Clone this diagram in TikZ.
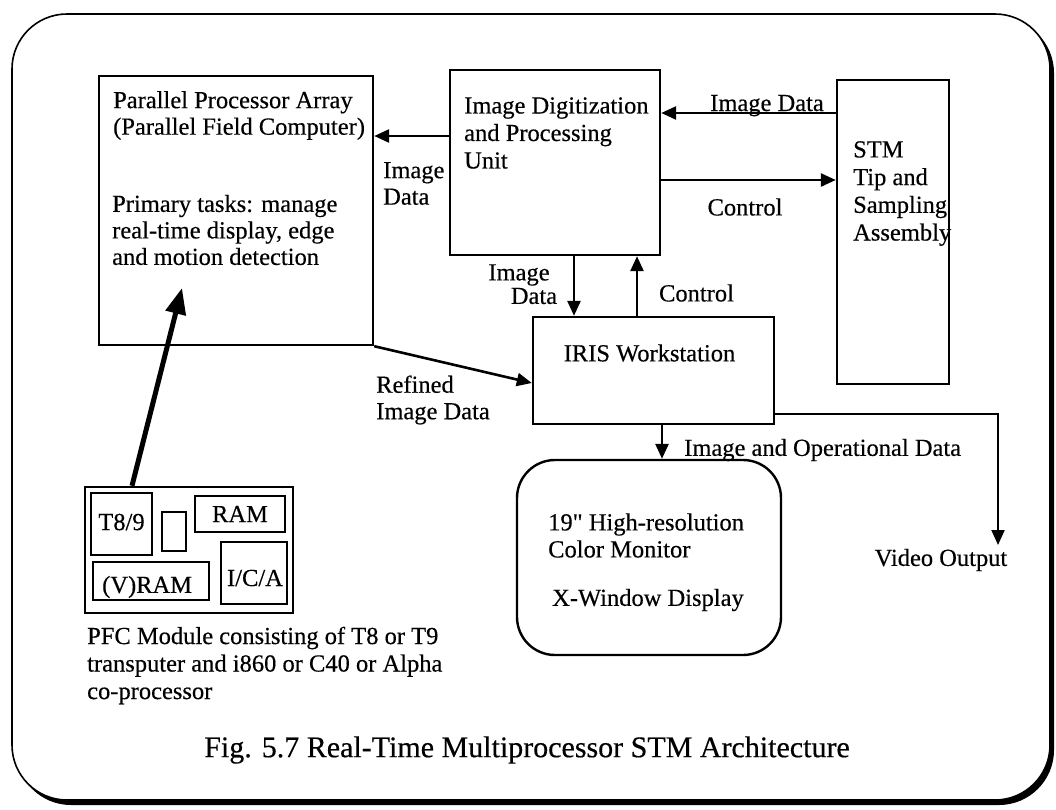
\documentclass[tikz,border=0pt]{standalone}
\usepackage{fontspec}
\setmainfont{Liberation Serif}[UprightFeatures={FakeBold=0.4}]
\usetikzlibrary{arrows.meta}
\begin{document}
\begin{tikzpicture}[x=1pt,y=-1pt,
  blk/.style={draw, line width=2.4pt, inner sep=0pt},
  txt/.style={inner sep=0pt, font=\fontsize{24.5}{26.5}\selectfont, align=left},
  arr/.style={line width=2.6pt, -{Triangle[length=15pt,width=13pt]}},
  bigarr/.style={line width=5pt, -{Triangle[length=26pt,width=20pt]}}]
\useasboundingbox (0,0) rectangle (1056,809);

% outer frame with drop shadow
\fill[black, rounded corners=55pt] (16,18) rectangle (1054,805);
\filldraw[fill=white, line width=1.6pt, rounded corners=55pt] (12,14) rectangle (1050,800);

% main blocks
\node[blk, minimum width=274pt, minimum height=269pt] (ppa) at (236,210.5) {};
\node[blk, minimum width=210pt, minimum height=185pt] (idp) at (555,162.5) {};
\node[blk, minimum width=112pt, minimum height=304pt] (stm) at (893,232) {};
\node[blk, minimum width=241pt, minimum height=107pt] (iris) at (653.5,370.5) {};
\node[blk, minimum width=264pt, minimum height=195pt, rounded corners=38pt] (mon) at (649,557.5) {};

% PFC module and its parts
\node[blk, minimum width=208pt, minimum height=126pt] (pfc) at (189,550) {};
\node[blk, minimum width=61pt, minimum height=62pt] (t89) at (121.5,524) {};
\node[blk, minimum width=24pt, minimum height=39pt] (chip) at (174,531.5) {};
\node[blk, minimum width=90pt, minimum height=36pt] (ram) at (240,514) {};
\node[blk, minimum width=116pt, minimum height=38pt] (vram) at (151,581) {};
\node[blk, minimum width=66pt, minimum height=62pt] (ica) at (254,573) {};

% block texts
\node[txt, anchor=west] (ppaT) at (113,115.5) {Parallel Processor Array\\(Parallel Field Computer)};
\node[txt, anchor=west] (ppaP) at (112,230) {Primary tasks: manage\\real-time display, edge\\and motion detection};
\node[txt, anchor=west, font=\fontsize{24.5}{27.5}\selectfont] (idpT) at (464,133) {Image Digitization\\and Processing\\Unit};
\node[txt, anchor=west, font=\fontsize{24.5}{27.7}\selectfont] (stmT) at (853,193.5) {STM\\Tip and\\Sampling\\Assembly};
\node[txt] (irisT) at (649.5,353) {IRIS Workstation};
\node[txt, anchor=west, font=\fontsize{24.5}{27}\selectfont] (monT) at (548,535.5) {19\textquotedbl{} High-resolution\\Color Monitor};
\node[txt, anchor=west] (monX) at (552,600) {X-Window Display};
\node[txt] (t89T) at (121.5,522) {T8/9};
\node[txt] (ramT) at (240,514) {RAM};
\node[txt, anchor=west] (vramT) at (102,587) {(V)RAM};
\node[txt] (icaT) at (255,578) {I/C/A};
\node[txt, anchor=west, font=\fontsize{24.5}{27.5}\selectfont] (pfcT) at (87,665.5) {PFC Module consisting of T8 or T9\\transputer and i860 or C40 or Alpha\\co-processor};

% connector rows and columns
\coordinate (r1) at (0,136);
\coordinate (r2) at (0,113);
\coordinate (r3) at (0,180);
\coordinate (r4) at (0,414);
\coordinate (r5) at (0,383);
\coordinate (c1) at (574,0);
\coordinate (c2) at (637,0);
\coordinate (c3) at (662,0);
\coordinate (c4) at (132,0);
\coordinate (vout) at (998,545);
\coordinate (ptip) at (182,288);

% connectors
\draw[arr] (idp.west |- r1) -- (ppa.east |- r1);
\draw[arr] (stm.west |- r2) -- (idp.east |- r2);
\draw[arr] (idp.east |- r3) -- (stm.west |- r3);
\draw[arr] (idp.south -| c1) -- (iris.north -| c1);
\draw[arr] (iris.north -| c2) -- (idp.south -| c2);
\draw[arr] (iris.south -| c3) -- (mon.north -| c3);
\draw[arr] (ppa.south east) -- (iris.west |- r5);
\draw[line width=2pt, -{Triangle[length=15pt,width=13pt]}] (iris.east |- r4) -| (vout);
\draw[bigarr] (pfc.north -| c4) -- (ptip);

% connector labels
\node[txt, anchor=west] (lb1) at (383,183.5) {Image\\Data};
\node[txt, anchor=base west] (lb2) at (710,111) {Image Data};
\node[txt] (lb3) at (745,207) {Control};
\node[txt] (lb4a) at (519,275) {Image};
\node[txt] (lb4b) at (534,296) {Data};
\node[txt] (lb5) at (696.5,293) {Control};
\node[txt, anchor=west] (lb6) at (376,400) {Refined\\Image Data};
\node[txt, anchor=west] (lb7) at (684,450) {Image and Operational Data};
\node[txt] (lb8) at (941,560) {Video Output};

% caption
\node[inner sep=0pt, font=\fontsize{30}{32}\selectfont] (cap) at (527,750) {Fig. 5.7 Real-Time Multiprocessor STM Architecture};
\end{tikzpicture}
\end{document}
